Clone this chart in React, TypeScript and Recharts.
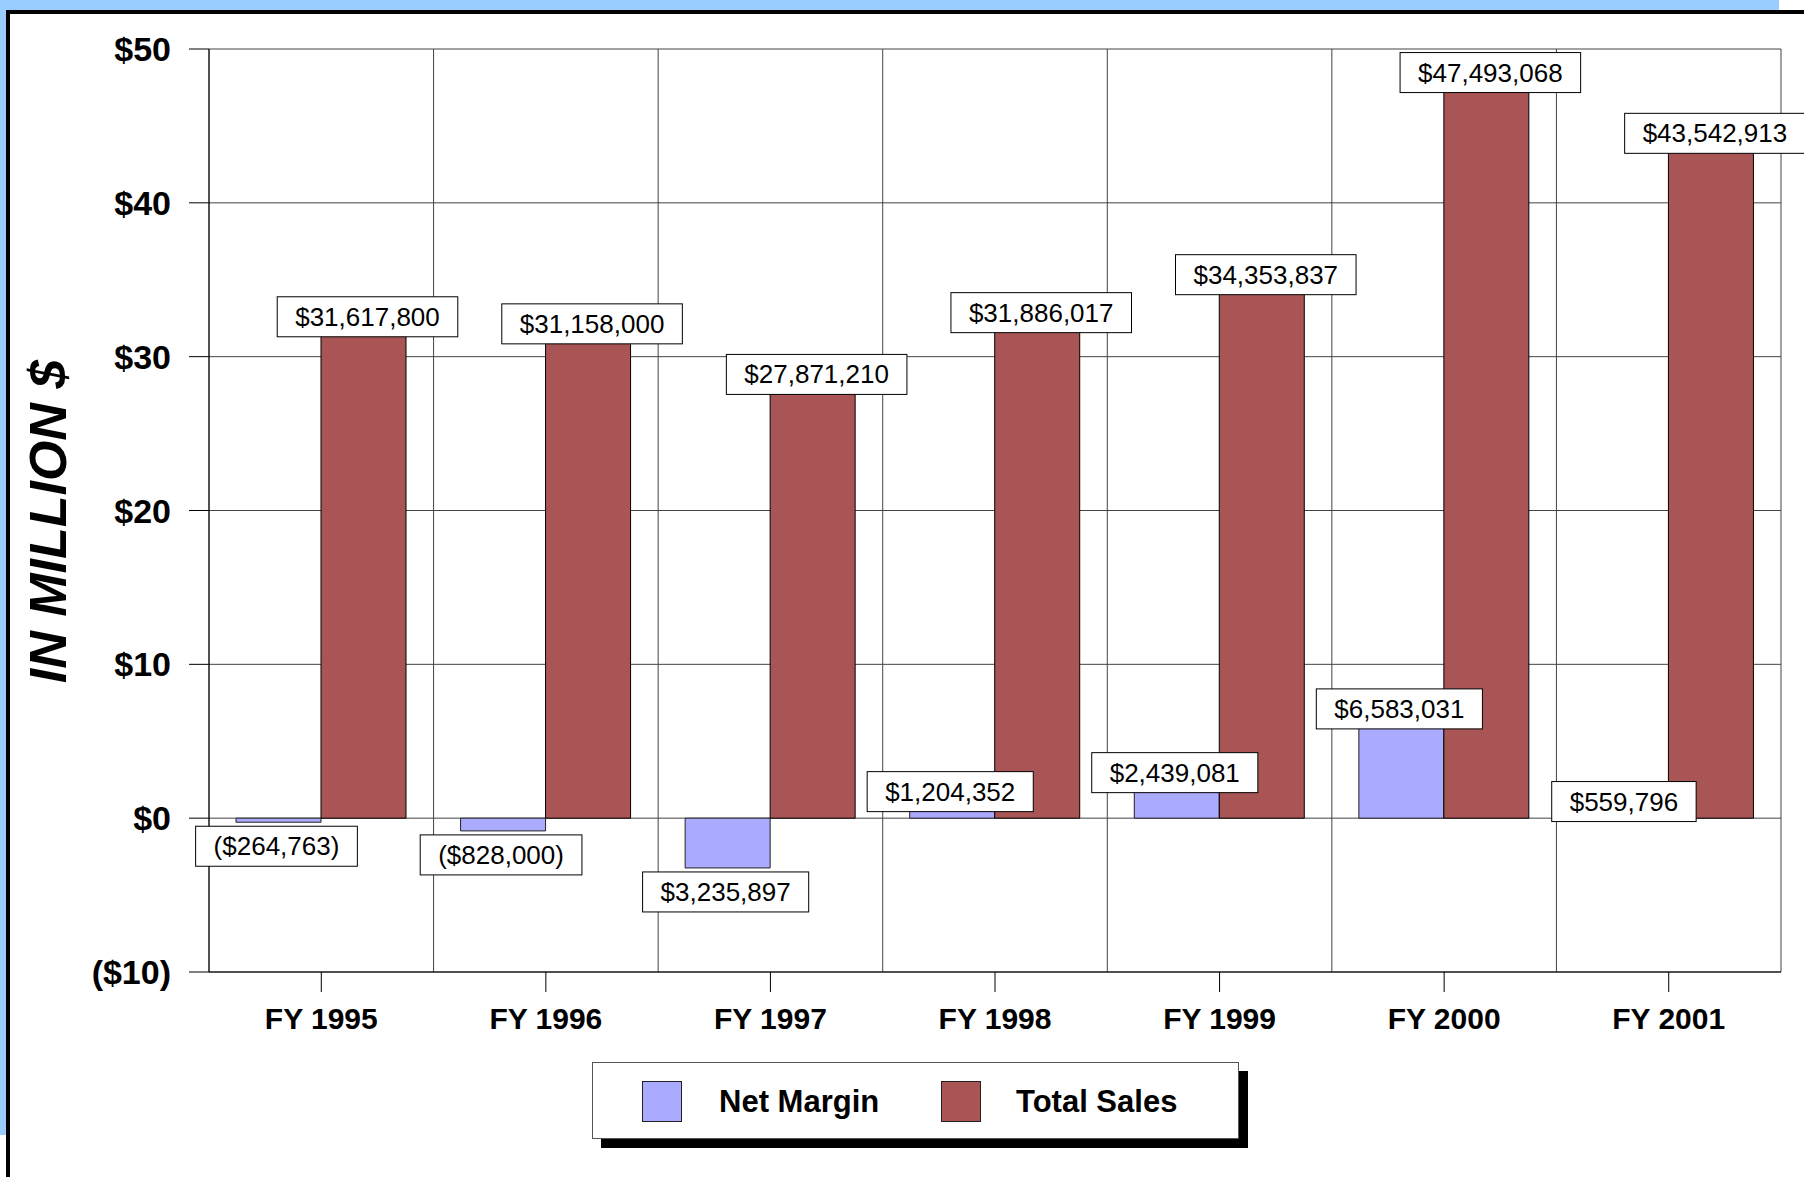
import React from 'react';
import { BarChart, Bar, XAxis, YAxis, CartesianGrid, LabelList, Label } from 'recharts';

// values in millions of dollars
const years = ['FY 1995', 'FY 1996', 'FY 1997', 'FY 1998', 'FY 1999', 'FY 2000', 'FY 2001'];
const netMargin = [-0.264763, -0.828, -3.235897, 1.204352, 2.439081, 6.583031, 0.559796];
const totalSales = [31.6178, 31.158, 27.87121, 31.886017, 34.353837, 47.493068, 43.542913];
const netMarginLabels = ['($264,763)', '($828,000)', '$3,235,897', '$1,204,352', '$2,439,081', '$6,583,031', '$559,796'];
const totalSalesLabels = ['$31,617,800', '$31,158,000', '$27,871,210', '$31,886,017', '$34,353,837', '$47,493,068', '$43,542,913'];
const yTicks = [-10, 0, 10, 20, 30, 40, 50];

const data = years.map((year, i) => ({ year, netMargin: netMargin[i], totalSales: totalSales[i] }));

const FONT = '"Liberation Sans", Arial, sans-serif';
const BLUE = '#AAAAFF';
const RED = '#AA5555';

const textWidth = (s: string, size: number) =>
  s.split('').reduce((w, c) => w + (c === ',' ? 0.278 : c === '(' || c === ')' ? 0.333 : 0.556), 0) * size;

function boxLabel(labels: string[], values: number[], kind: 'net' | 'sales') {
  return (props: any) => {
    const { x, y, width, height, index } = props;
    const text = labels[index];
    const top = Math.min(y, y + height);
    const bottom = Math.max(y, y + height);
    const bw = textWidth(text, 26) + 36;
    const bh = 40;
    const cx = x + width / 2 + (kind === 'sales' ? 4 : -2);
    let by: number;
    if (values[index] < 0) by = bottom + 4;
    else if (kind === 'net') by = top + 12 - bh;
    else by = top + 5 - bh;
    return (
      <g>
        <rect x={cx - bw / 2} y={by} width={bw} height={bh} fill="#fff" stroke="#000" strokeWidth={1} />
        <text x={cx} y={by + bh / 2} textAnchor="middle" dominantBaseline="central" fontSize={26} fontFamily={FONT} fill="#000">
          {text}
        </text>
      </g>
    );
  };
}

const fmtY = (v: number) => (v < 0 ? `($${-v})` : `$${v}`);

function LegendBox() {
  const sw = (color: string) => ({
    width: 40, height: 41, background: color, border: '1px solid #222', boxSizing: 'border-box' as const,
  });
  const txt = { fontFamily: FONT, fontWeight: 700, fontSize: 31, color: '#000', whiteSpace: 'nowrap' as const };
  return (
    <div style={{
      position: 'absolute', left: 592, top: 1062,
      width: 647, height: 77, background: '#fff', border: '1px solid #555', boxSizing: 'border-box',
      boxShadow: '9px 9px 0 #000',
    }}>
      <div style={{ position: 'absolute', left: 49, top: 18, ...sw(BLUE) }} />
      <div style={{ position: 'absolute', left: 126, top: 18, lineHeight: '41px', ...txt }}>Net Margin</div>
      <div style={{ position: 'absolute', left: 348, top: 18, ...sw(RED) }} />
      <div style={{ position: 'absolute', left: 423, top: 18, lineHeight: '41px', ...txt }}>Total Sales</div>
    </div>
  );
}

export default function App() {
  return (
    <div style={{ position: 'absolute', left: 0, top: 0, width: 1804, height: 1177, background: '#fff', overflow: 'hidden' }}>
      <div style={{ position: 'absolute', left: 0, top: 0, width: 1779, height: 10, background: '#99CCFF' }} />
      <div style={{ position: 'absolute', left: 0, top: 0, width: 6, height: 1135, background: '#99CCFF' }} />
      <div style={{ position: 'absolute', left: 6, top: 10, width: 1798, height: 4, background: '#000' }} />
      <div style={{ position: 'absolute', left: 6, top: 10, width: 4, height: 1167, background: '#000' }} />
      <div style={{ position: 'absolute', left: 0, top: 0 }}>
        <BarChart
          width={1804}
          height={1177}
          data={data}
          margin={{ top: 49, right: 23, left: 0, bottom: 125 }}
          barGap={0}
          barSize={85}
        >
          <CartesianGrid
            stroke="#444"
            strokeWidth={1}
            verticalCoordinatesGenerator={({ offset }: any) =>
              Array.from({ length: years.length + 1 }, (_, i) => offset.left + (i * offset.width) / years.length)
            }
          />
          <XAxis
            dataKey="year"
            height={80}
            tickSize={20}
            tickMargin={16}
            stroke="#000"
            tickLine={{ stroke: '#000' }}
            tick={{ fontSize: 30, fontWeight: 700, fontFamily: FONT, fill: '#000' }}
          />
          <YAxis
            width={209}
            domain={[-10, 50]}
            ticks={yTicks}
            tickFormatter={fmtY}
            tickSize={20}
            tickMargin={18}
            stroke="#000"
            tickLine={{ stroke: '#000' }}
            tick={{ fontSize: 34, fontWeight: 700, fontFamily: FONT, fill: '#000' }}
            interval={0}
          >
            <Label
              content={(p: any) => {
                const vb = p.viewBox;
                const cx = vb.x + 48;
                const cy = vb.y + vb.height / 2 + 11;
                return (
                  <text
                    x={cx}
                    y={cy}
                    transform={`rotate(-90 ${cx} ${cy})`}
                    textAnchor="middle"
                    dominantBaseline="central"
                    fontSize={52}
                    fontWeight={700}
                    fontStyle="italic"
                    fontFamily={FONT}
                    fill="#000"
                  >
                    IN MILLION $
                  </text>
                );
              }}
            />
          </YAxis>
          <Bar dataKey="netMargin" name="Net Margin" fill={BLUE} stroke="#222" strokeWidth={1} isAnimationActive={false}>
            <LabelList dataKey="netMargin" content={boxLabel(netMarginLabels, netMargin, 'net')} />
          </Bar>
          <Bar dataKey="totalSales" name="Total Sales" fill={RED} stroke="#000" strokeWidth={1} isAnimationActive={false}>
            <LabelList dataKey="totalSales" content={boxLabel(totalSalesLabels, totalSales, 'sales')} />
          </Bar>
        </BarChart>
      </div>
      <LegendBox />
    </div>
  );
}
